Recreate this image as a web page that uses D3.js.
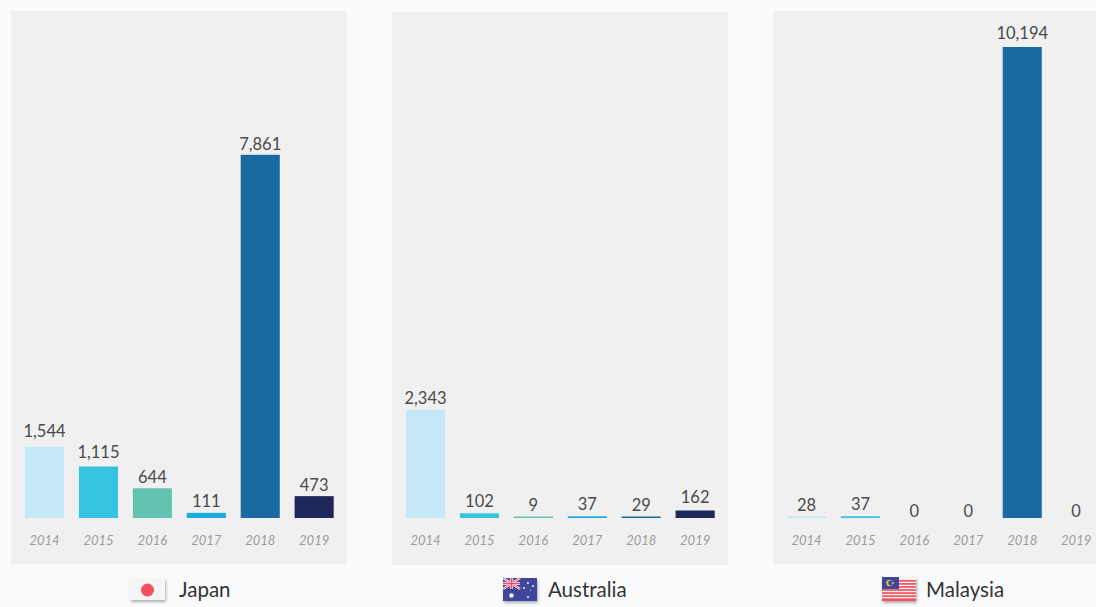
<!DOCTYPE html>
<html>
<head>
<meta charset="utf-8">
<script src="https://cdn.jsdelivr.net/npm/d3@7"></script>
<style>
html,body{margin:0;padding:0;background:#f9fbfd;overflow:hidden}
svg{display:block}
text{font-family:Lato,"Open Sans",sans-serif}
.flag{filter:drop-shadow(1px 2px 1.5px rgba(0,0,0,.3))}
</style>
</head>
<body>
<svg id="chart" width="1096" height="607"></svg>
<script>
const years = ["2014","2015","2016","2017","2018","2019"];
const barColors = ["#c5e8f7","#36c4e2","#62c4ae","#1aabe0","#1a6aa2","#1e2759"];
const japanValues = [1544,1115,644,111,7861,473];
const australiaValues = [2343,102,9,37,29,162];
const malaysiaValues = [28,37,0,0,10194,0];
const countryNames = ["Japan","Australia","Malaysia"];

const panelWidth = 336, panelHeight = 553;
const panelOrigins = [[11,11],[392,12],[773,11]];
const baselineY = 518;

// Hand-placed value labels: vertical nudge per year, one row per panel
const labelNudges = [
  [-4,-2,1,0,1,1],
  [0,0,0,0,0,-2],
  [0,0,0,0,-2,0]
];

const svg = d3.select("#chart");
const y = d3.scaleLinear().domain([0,10194]).range([baselineY,47]);
const x = d3.scaleBand().domain(years).range([14,322.7]).paddingInner(0.275).paddingOuter(0);
const color = d3.scaleOrdinal().domain(years).range(barColors);
const fmt = d3.format(",");

function drawPanel(index, values){
  const [px,py] = panelOrigins[index];
  svg.append("rect").attr("x",px).attr("y",py)
    .attr("width",panelWidth).attr("height",panelHeight).attr("fill","#f0f0f0");
  const g = svg.append("g").attr("transform",`translate(${px},0)`);
  const rows = years.map((year,i)=>({year,value:values[i],nudge:labelNudges[index][i]}));

  g.selectAll("rect.bar").data(rows.filter(d=>d.value>0)).join("rect")
    .attr("class","bar")
    .attr("x",d=>x(d.year)).attr("width",x.bandwidth())
    .attr("y",d=>Math.min(y(d.value),baselineY-1.5))
    .attr("height",d=>Math.max(baselineY-y(d.value),1.5))
    .attr("fill",d=>color(d.year));

  g.selectAll("text.value").data(rows).join("text")
    .attr("class","value")
    .attr("x",d=>x(d.year)+x.bandwidth()/2)
    .attr("y",d=>(d.value===0 ? baselineY-1 : Math.min(y(d.value),baselineY-1.5)-6)+d.nudge)
    .attr("text-anchor","middle").attr("font-size",16.5).attr("fill","#4a4a4a")
    .text(d=>fmt(d.value));

  const axis = g.append("g").attr("transform",`translate(0,${baselineY+16})`)
    .call(d3.axisBottom(x).tickSize(0).tickPadding(2));
  axis.select(".domain").remove();
  axis.selectAll("text").attr("font-size",13).attr("font-style","italic")
    .attr("fill","#9c9c9c").style("font-family","Lato,'Open Sans',sans-serif");
}
drawPanel(0,japanValues);
drawPanel(1,australiaValues);
drawPanel(2,malaysiaValues);

// Country captions below each panel
const captionX = [179,548,926];
svg.selectAll("text.country").data(countryNames).join("text")
  .attr("class","country")
  .attr("x",(d,i)=>captionX[i]).attr("y",597)
  .attr("font-size",20.5).attr("fill","#333").text(d=>d);

// Flags
const japan = svg.append("g").attr("class","flag").attr("transform","translate(130,578)");
japan.append("rect").attr("width",35).attr("height",22).attr("fill","#f5f5f5");
japan.append("circle").attr("cx",17.5).attr("cy",12).attr("r",6.5).attr("fill","#f4505f");

const aus = svg.append("g").attr("class","flag").attr("transform","translate(503,578)");
aus.append("rect").attr("width",34).attr("height",23).attr("fill","#3f469c");
aus.append("path").attr("d","M0 0L17 11M17 0L0 11").attr("stroke","#f7dfe3").attr("stroke-width",2.4);
aus.append("path").attr("d","M0 0L17 11M17 0L0 11").attr("stroke","#ef5a6a").attr("stroke-width",.9);
aus.append("path").attr("d","M8.5 0V11M0 5.5H17").attr("stroke","#f7e4e7").attr("stroke-width",3.2);
aus.append("path").attr("d","M8.5 0V11M0 5.5H17").attr("stroke","#ee4c5e").attr("stroke-width",1.7);
[[8.5,17.5,2.2],[25,5,1],[25,19,1],[21,10,1],[30,8,1],[27.5,12,.6]].forEach(([cx,cy,r])=>{
  aus.append("circle").attr("cx",cx).attr("cy",cy).attr("r",r).attr("fill","#f4f4fa");
});

const malaysia = svg.append("g").attr("class","flag").attr("transform","translate(882,577)");
malaysia.append("rect").attr("width",34).attr("height",24).attr("fill","#f7f3f3");
d3.range(0,7).forEach(i=>{
  malaysia.append("rect").attr("y",3+i*3.05).attr("width",34).attr("height",1.7+(i===6?1:0)).attr("fill","#f4505f");
});
malaysia.append("rect").attr("width",17).attr("height",12).attr("fill","#3f469c");
malaysia.append("circle").attr("cx",7.5).attr("cy",6).attr("r",3.2).attr("fill","#eec33d");
malaysia.append("circle").attr("cx",8.6).attr("cy",6).attr("r",2.4).attr("fill","#3f469c");
malaysia.append("circle").attr("cx",10.8).attr("cy",6).attr("r",1.1).attr("fill","#eec33d");
</script>
</body>
</html>
